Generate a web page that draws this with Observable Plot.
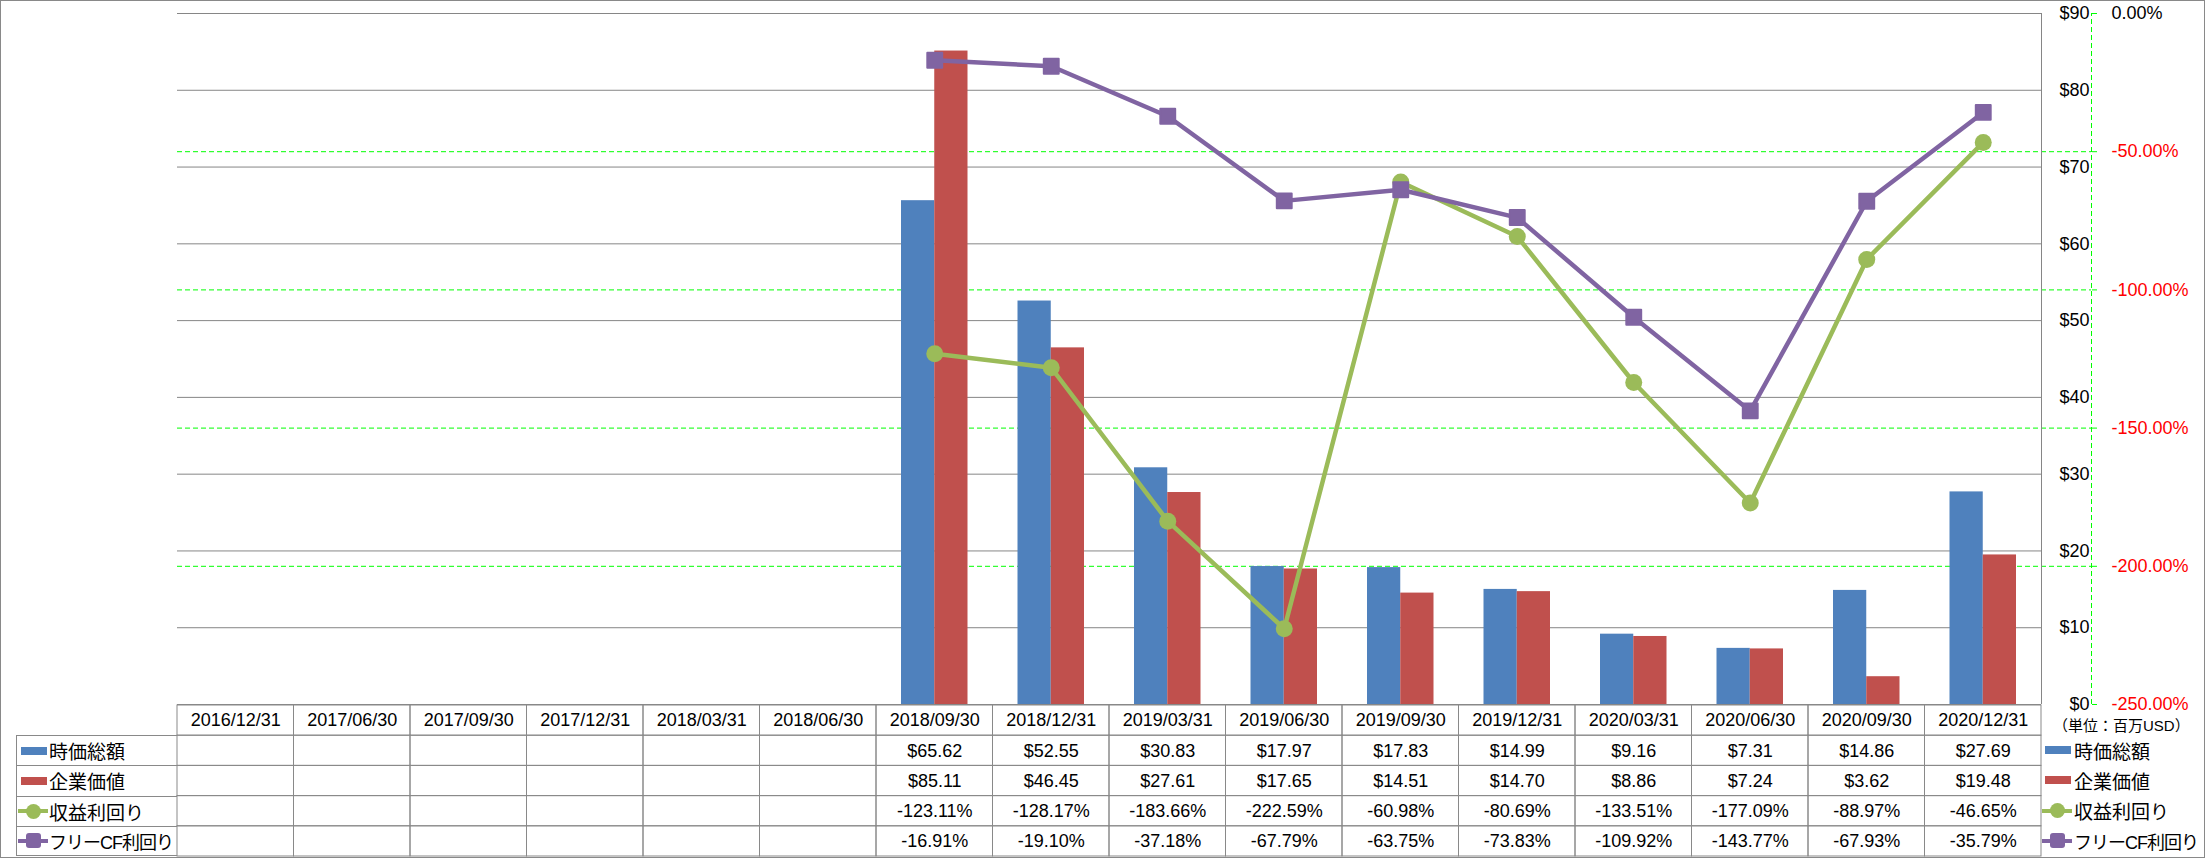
<!DOCTYPE html>
<html>
<head>
<meta charset="utf-8">
<script src="https://cdn.jsdelivr.net/npm/d3@7"></script>
<script src="https://cdn.jsdelivr.net/npm/@observablehq/plot@0.6"></script>
<style>
  body { margin: 0; background: #fff; }
  #chart { position: relative; width: 2205px; height: 858px; overflow: hidden; background: #fff;
    font-family: "Liberation Sans", "Noto Sans CJK JP", sans-serif; color: #000; }
  #chart > svg { position: absolute; left: 0; }
  .border { position: absolute; left: 0; top: 0; width: 2205px; height: 858px; box-sizing: border-box;
    border: 1px solid #898989; pointer-events: none; }
  .abs { position: absolute; white-space: nowrap; }
</style>
</head>
<body>
<div id="chart"></div>
<script>
// ---------- data ----------
const dates = ["2016/12/31","2017/06/30","2017/09/30","2017/12/31","2018/03/31","2018/06/30",
  "2018/09/30","2018/12/31","2019/03/31","2019/06/30","2019/09/30","2019/12/31",
  "2020/03/31","2020/06/30","2020/09/30","2020/12/31"];
const marketCap = [null,null,null,null,null,null,65.62,52.55,30.83,17.97,17.83,14.99,9.16,7.31,14.86,27.69];
const enterpriseValue = [null,null,null,null,null,null,85.11,46.45,27.61,17.65,14.51,14.70,8.86,7.24,3.62,19.48];
const earningsYield = [null,null,null,null,null,null,-123.11,-128.17,-183.66,-222.59,-60.98,-80.69,-133.51,-177.09,-88.97,-46.65];
const fcfYield = [null,null,null,null,null,null,-16.91,-19.10,-37.18,-67.79,-63.75,-73.83,-109.92,-143.77,-67.93,-35.79];
const seriesNames = ["時価総額","企業価値","収益利回り","フリーCF利回り"];
const seriesColors = ["#4F81BD","#C0504D","#9BBB59","#8064A2"];
const dollarTicks = [0,10,20,30,40,50,60,70,80,90];
const pctTicks = [0,-50,-100,-150,-200,-250];
const unitLabel = "（単位：百万USD）";

// ---------- derived table ----------
const rows = dates.map((date, i) => ({date, mcap: marketCap[i], ev: enterpriseValue[i], earn: earningsYield[i], fcf: fcfYield[i]}));
const valued = rows.filter(d => d.mcap != null);

const FONT = '"Liberation Sans", "Noto Sans CJK JP", sans-serif';
const W = 2205, H = 705;
const grey = "#868686", green = "#00FF00";
const lastDate = dates[dates.length - 1];
const common = {
  width: W, height: H, marginLeft: 177, marginRight: 164, marginTop: 13, marginBottom: 1,
  style: {background: "transparent", fontFamily: FONT, fontSize: "18px", overflow: "visible"}
};
const xOpt = {type: "band", domain: dates, paddingInner: 0, paddingOuter: 0, round: false, axis: null};
const bw = (W - 177 - 164) / dates.length; // band width (for offsets of frame lines)

// layer 1: secondary (percent) grid and axis
const pG = Plot.plot({
  ...common,
  x: xOpt,
  y: {domain: [-250, 0]},
  marks: [
    Plot.ruleY(pctTicks.filter(t => t !== 0 && t !== -250), {stroke: green, strokeDasharray: "5,3", insetRight: -50}),
    Plot.ruleX([lastDate], {dx: bw / 2 + 50, y1: -250, y2: 0, stroke: green, strokeDasharray: "5,3"}),
    Plot.axisY({anchor: "right", ticks: pctTicks.filter(t => t !== 0), tickFormat: d => d.toFixed(2) + "%",
      tickSize: 5, tickPadding: 15, dx: 50, stroke: green, color: "#FF0000", fontSize: 18}),
    Plot.axisY({anchor: "right", ticks: [0], tickFormat: d => d.toFixed(2) + "%",
      tickSize: 5, tickPadding: 15, dx: 50, stroke: green, color: "#000000", fontSize: 18})
  ]
});

// layer 2: bars with primary ($) axis
const pA = Plot.plot({
  ...common,
  x: xOpt,
  y: {domain: [0, 90]},
  marks: [
    Plot.gridY({ticks: dollarTicks.filter(t => t > 0), stroke: grey, strokeOpacity: 1}),
    Plot.ruleY([0], {stroke: grey}),
    Plot.barY(valued, {x: "date", y: "mcap", fill: seriesColors[0], insetLeft: 25, insetRight: bw / 2}),
    Plot.barY(valued, {x: "date", y: "ev", fill: seriesColors[1], insetLeft: bw / 2, insetRight: 25}),
    Plot.ruleX([lastDate], {dx: bw / 2, y1: 0, y2: 90, stroke: grey}),
    Plot.axisY({anchor: "right", ticks: dollarTicks, tickFormat: d => "$" + d, tickSize: 0,
      tickPadding: 48, textAnchor: "end", fontSize: 18, color: "#000"})
  ]
});

// layer 3: yield lines (percent scale)
const pB = Plot.plot({
  ...common,
  x: xOpt,
  y: {domain: [-250, 0], axis: null},
  marks: [
    Plot.line(valued, {x: "date", y: "earn", stroke: seriesColors[2], strokeWidth: 4.5}),
    Plot.dot(valued, {x: "date", y: "earn", r: 8.5, fill: seriesColors[2]}),
    Plot.line(valued, {x: "date", y: "fcf", stroke: seriesColors[3], strokeWidth: 4.5}),
    Plot.dot(valued, {x: "date", y: "fcf", symbol: "square", r: 8.4, fill: seriesColors[3],
      stroke: seriesColors[3], strokeWidth: 2, strokeLinejoin: "round"})
  ]
});

// layer 4: data table
const rowKeys = ["date", "mcap", "ev", "earn", "fcf"];
const cells = dates.flatMap(date => rowKeys.map(row => ({date, row})));
const fmt = {
  date: d => d.date,
  mcap: d => d.mcap == null ? "" : "$" + d.mcap.toFixed(2),
  ev: d => d.ev == null ? "" : "$" + d.ev.toFixed(2),
  earn: d => d.earn == null ? "" : d.earn.toFixed(2) + "%",
  fcf: d => d.fcf == null ? "" : d.fcf.toFixed(2) + "%"
};
const texts = rows.flatMap(d => rowKeys.map(row => ({date: d.date, row, label: fmt[row](d)}))).filter(t => t.label);
const TH = 152;
const pC = Plot.plot({
  width: W, height: TH, marginLeft: 177, marginRight: 164, marginTop: 0, marginBottom: 1,
  style: {background: "transparent", fontFamily: FONT, fontSize: "18px", overflow: "visible"},
  x: xOpt,
  y: {type: "band", domain: rowKeys, paddingInner: 0, paddingOuter: 0, round: false, axis: null},
  marks: [
    Plot.cell(cells, {x: "date", y: "row", fill: "none", stroke: "#898989", inset: 0}),
    Plot.text(texts, {x: "date", y: "row", text: "label", fontSize: 18, fill: "#000"})
  ]
});

const chart = document.getElementById("chart");
for (const [svg, top] of [[pG, 0], [pA, 0], [pB, 0], [pC, H]]) {
  svg.style.position = "absolute";
  svg.style.left = "0px";
  svg.style.top = top + "px";
  svg.style.maxWidth = "none";
  chart.appendChild(svg);
}

// ---------- legends (HTML) ----------
const rowH = (TH - 1) / rowKeys.length;
function swatch(i, x) {
  const wrap = document.createElement("div");
  wrap.className = "abs";
  Object.assign(wrap.style, {left: x + "px", top: "0px", width: "30px", height: "100%"});
  if (i < 2) {
    const r = document.createElement("div");
    r.className = "abs";
    Object.assign(r.style, {left: "3px", width: "26px", height: "8px", top: "calc(50% - 4px)", background: seriesColors[i]});
    wrap.appendChild(r);
  } else {
    const l = document.createElement("div");
    l.className = "abs";
    Object.assign(l.style, {left: "0px", width: "30px", height: "4px", top: "calc(50% - 2px)", background: seriesColors[i]});
    wrap.appendChild(l);
    const m = document.createElement("div");
    m.className = "abs";
    Object.assign(m.style, {left: "8px", width: "15px", height: "15px", top: "calc(50% - 7.5px)", background: seriesColors[i],
      borderRadius: i === 2 ? "50%" : "3px"});
    wrap.appendChild(m);
  }
  return wrap;
}
function label(name, i) {
  const t = document.createElement("div");
  t.className = "abs";
  Object.assign(t.style, {left: "32px", top: "0px", height: "100%", display: "flex", alignItems: "center",
    fontSize: i === 3 ? "18px" : "19px", letterSpacing: i === 3 ? "-1px" : "0px"});
  t.textContent = name;
  return t;
}
seriesNames.forEach((name, i) => {
  const top = H + rowH * (i + 1);
  // left row header cell
  const cell = document.createElement("div");
  cell.className = "abs";
  Object.assign(cell.style, {left: "16px", top: top + "px", width: "161px", height: rowH + "px",
    boxSizing: "border-box", borderLeft: "1px solid #898989", borderTop: "1px solid #898989",
    borderBottom: i === seriesNames.length - 1 ? "1px solid #898989" : "none"});
  cell.appendChild(swatch(i, 1));
  cell.appendChild(label(name, i));
  chart.appendChild(cell);
  // right legend
  const rl = document.createElement("div");
  rl.className = "abs";
  Object.assign(rl.style, {left: "2042px", top: top + "px", width: "160px", height: rowH + "px"});
  rl.appendChild(swatch(i, 0));
  rl.appendChild(label(name, i));
  chart.appendChild(rl);
});
const unit = document.createElement("div");
unit.className = "abs";
Object.assign(unit.style, {left: "2053px", top: "716px", fontSize: "15px", lineHeight: "20px"});
unit.textContent = unitLabel;
chart.appendChild(unit);

const border = document.createElement("div");
border.className = "border";
chart.appendChild(border);
</script>
</body>
</html>
